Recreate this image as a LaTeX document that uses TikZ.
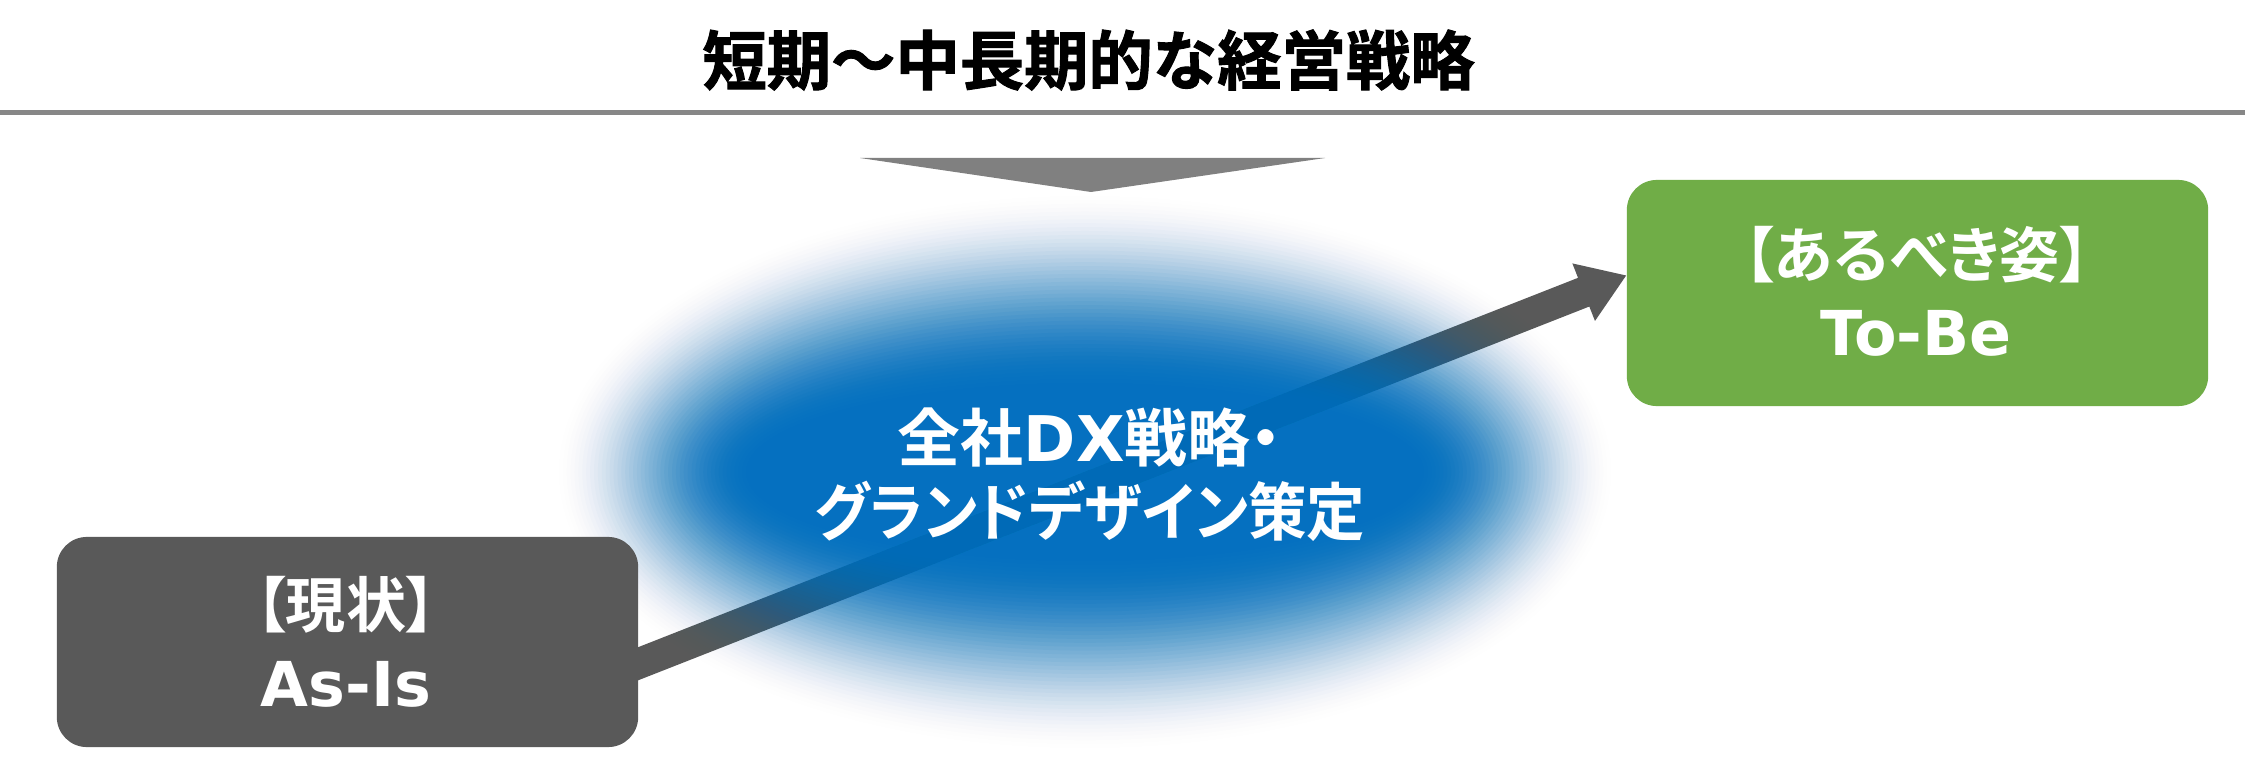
\documentclass[tikz,border=0pt]{standalone}
\usepackage{fontspec}
\usetikzlibrary{calc}
\newfontfamily\jp{Noto Sans CJK JP}[BoldFont={Noto Sans CJK JP Bold},RawFeature=+palt]
\newfontfamily\jpnarrow{Noto Sans CJK JP Bold}[RawFeature=+palt,FakeStretch=0.93]
\newfontfamily\jptitle{Noto Sans CJK JP Bold}[FakeBold=1.5]
\newfontfamily\lat{DejaVu Sans}[BoldFont={DejaVu Sans Bold}]
\definecolor{tgray}{HTML}{808080}
\definecolor{lgray}{HTML}{878787}
\definecolor{asiscol}{HTML}{595959}
\definecolor{tobecol}{HTML}{70AD47}
\definecolor{dxblue}{HTML}{0070C0}
\pgfdeclarelayer{bglayer}
\pgfdeclarelayer{arrowlayer}
\pgfdeclarelayer{glowlayer}
\pgfsetlayers{bglayer,arrowlayer,glowlayer,main}
\tikzset{
  boxsty/.style={rounded corners=0.3cm, inner sep=0pt, draw=none, minimum width=5.81cm},
  jptext/.style={inner sep=0pt, text=white, font=\jp\bfseries\fontsize{17.1pt}{20pt}\selectfont},
  lattext/.style={inner sep=0pt, text=white, font=\lat\bfseries\fontsize{17.6pt}{20pt}\selectfont},
  dxtext/.style={inner sep=0pt, text=white, font=\jp\bfseries\fontsize{17.9pt}{20pt}\selectfont},
  dxnarrow/.style={inner sep=0pt, text=white, font=\jpnarrow\fontsize{17.9pt}{20pt}\selectfont},
  titlesty/.style={inner sep=0pt, text=black, font=\jptitle\fontsize{18.3pt}{20pt}\selectfont},
}
\begin{document}
\begin{tikzpicture}[x=0.01cm,y=-0.01cm]
\begin{pgfonlayer}{bglayer}
\fill[white] (0,0) rectangle (2245,770);
\end{pgfonlayer}
\useasboundingbox (0,0) rectangle (2245,770);
% title and rule
\node[titlesty] (title) at (1088.5,60) {短期～中長期的な経営戦略};
\coordinate (hl1) at (0,113);
\coordinate (hl2) at (2245,113);
\draw[lgray, line width=0.05cm] (hl1) -- (hl2);
\fill[tgray] (860,158) -- (1325,158) -- (1091,192) -- cycle;
% boxes
\node[boxsty, fill=asiscol, minimum height=2.10cm] (asis) at (347.5,642) {};
\node[boxsty, fill=tobecol, minimum height=2.26cm] (tobe) at (1917.5,293) {};
\node[jptext] (asisJ) at (346,605) {【現状】};
\node[lattext] (asisL) at (346,684) {As-Is};
\node[jptext] (tobeJ) at (1917,255) {【あるべき姿】};
\node[lattext] (tobeL) at (1916,333) {To-Be};
% arrow
\coordinate (as) at ($(asis.east)+(-38,36.4)$);
\coordinate (at) at ($(tobe.west)+(0,-17.5)$);
\coordinate (ah) at ($(at)!0.456cm!(as)$);
\begin{pgfonlayer}{arrowlayer}
\fill[asiscol] ($(as)!1.54mm!90:(at)$) -- ($(ah)!1.54mm!90:(at)$) -- ($(ah)!3.09mm!90:(at)$)
  -- (at) -- ($(ah)!3.09mm!-90:(at)$) -- ($(ah)!1.54mm!-90:(at)$) -- ($(as)!1.54mm!-90:(at)$) -- cycle;
\end{pgfonlayer}
% glow ellipse
\coordinate (gc) at (1085,472);
\begin{pgfonlayer}{glowlayer}
\foreach \k in {1,...,50}{
  \pgfmathsetmacro\sa{(\k-1)/50}
  \pgfmathsetmacro\sb{\k/50}
  \pgfmathsetmacro\Oa{0.96*(3*\sa*\sa-2*\sa*\sa*\sa)}
  \pgfmathsetmacro\Ob{0.96*(3*\sb*\sb-2*\sb*\sb*\sb)}
  \pgfmathsetmacro\al{1-(1-\Ob)/(1-\Oa)}
  \pgfmathsetmacro\rx{(335+195*(1-\sa))*0.01}
  \pgfmathsetmacro\ry{(85+195*(1-\sa))*0.01}
  \fill[dxblue, fill opacity=\al] (gc) ellipse [x radius=\rx cm, y radius=\ry cm];
}
\end{pgfonlayer}
\node[dxtext] (dx1) at (1090,437) {全社{\lat\bfseries DX}戦略・};
\node[dxnarrow] (dx2) at (1090,511) {グランドデザイン策定};
\end{tikzpicture}
\end{document}
